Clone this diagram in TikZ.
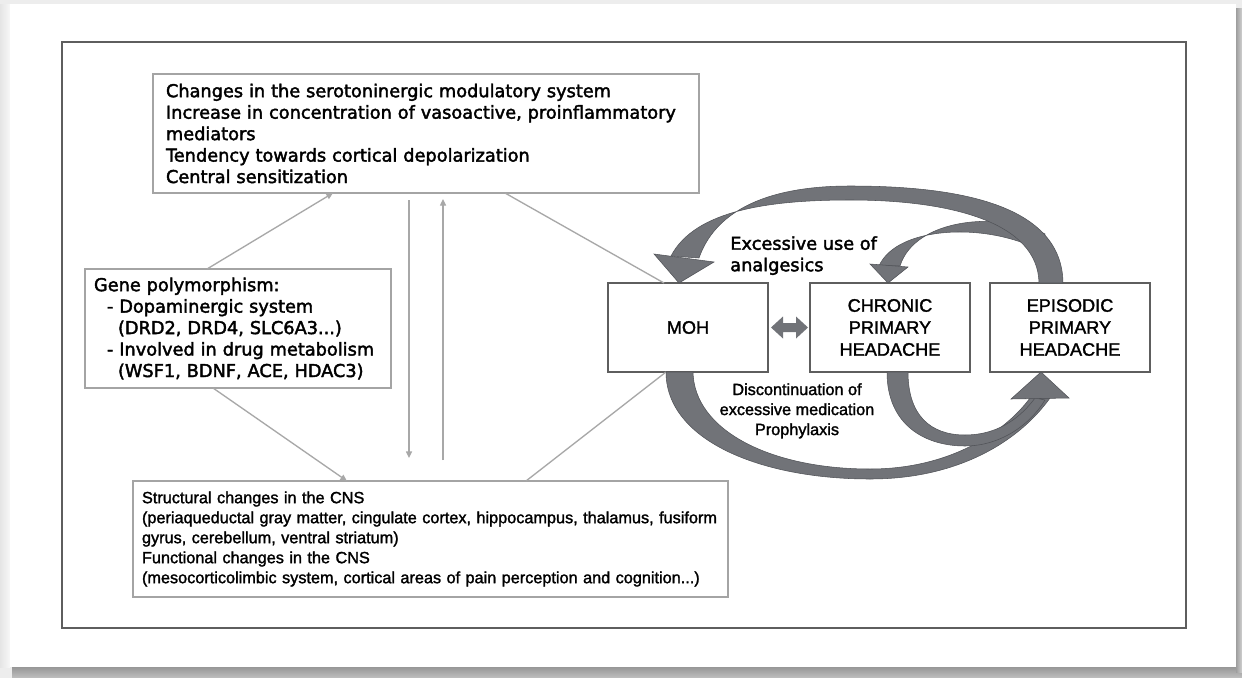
\documentclass[tikz,border=0pt]{standalone}
\usepackage{fontspec}
\setmainfont{DejaVu Sans}
\newfontfamily\vfont[FakeBold=2.2]{DejaVu Sans}
\newfontfamily\afont[FakeBold=1.6]{Liberation Sans}
\usetikzlibrary{arrows.meta,calc}
\definecolor{framec}{HTML}{5E5E5E}
\definecolor{boxline}{HTML}{A4A4A4}
\definecolor{connc}{HTML}{A8A8A8}
\definecolor{rib}{HTML}{717378}
\definecolor{ribdark}{HTML}{505257}
\newdimen\pxu \pxu=0.75pt
\begin{document}
\begin{tikzpicture}[x=0.75pt,y=-0.75pt,
  gbox/.style={draw=boxline,line width=1.1pt,outer sep=0pt,anchor=north west,align=left},
  hbox/.style={draw=framec,line width=1.1pt,outer sep=0pt,anchor=north west,align=center,
     minimum width=160\pxu,minimum height=89\pxu,inner sep=0pt,
     font={\afont\fontsize{13.6}{16.5}\selectfont}},
  vtext/.style={font={\vfont\fontsize{13.3}{16.1}\selectfont}},
  atext/.style={font={\afont\fontsize{12.2}{15}\selectfont}},
  conn/.style={draw=connc,line width=1pt},
  connarrow/.style={conn,-{Triangle[length=5pt,width=4.5pt]}},
  ribbon/.style={fill=rib,draw=ribdark,line width=0.4pt}
]
\useasboundingbox (0,0) rectangle (1242,678);
% card and shadow
\fill[black!7] (0,0) rectangle (1242,678);
\shade[top color=black!45,bottom color=black!25] (12,664) rectangle (1242,678);
\shade[left color=black!38,right color=black!18] (1236,8) rectangle (1242,672);
\shade[left color=black!10,right color=black!3] (0,4) rectangle (10,667);
\fill[white] (10,4) rectangle (1236,667);
% inner frame
\draw[framec,line width=1.2pt] (62,42) rectangle (1186,628);

% left boxes
\node[gbox,vtext,minimum width=546\pxu,minimum height=119\pxu,text width=520\pxu,inner xsep=13\pxu] (top) at (153,74)
 {Changes in the serotoninergic modulatory system\\Increase in concentration of vasoactive, proinflammatory\\mediators\\Tendency towards cortical depolarization\\Central sensitization};
\node[gbox,vtext,minimum width=306\pxu,minimum height=119\pxu,text width=288\pxu,inner xsep=9\pxu] (gene) at (85,269)
 {Gene polymorphism:\\\hspace*{13\pxu}- Dopaminergic system\\\hspace*{24\pxu}(DRD2, DRD4, SLC6A3...)\\\hspace*{13\pxu}- Involved in drug metabolism\\\hspace*{24\pxu}(WSF1, BDNF, ACE, HDAC3)};
\node[gbox,atext,minimum width=595\pxu,minimum height=116\pxu,text width=577\pxu,inner xsep=9\pxu] (bot) at (133,481)
 {Structural changes in the CNS\\(periaqueductal gray matter, cingulate cortex, hippocampus, thalamus, fusiform\\gyrus, cerebellum, ventral striatum)\\Functional changes in the CNS\\(mesocorticolimbic system, cortical areas of pain perception and cognition...)};

% right boxes
\node[hbox] (moh) at (608,283) {MOH};
\node[hbox] (chr) at (810,283) {CHRONIC\\PRIMARY\\HEADACHE};
\node[hbox] (epi) at (990,283) {EPISODIC\\PRIMARY\\HEADACHE};

% labels
\node[vtext,anchor=north west,inner sep=0pt,align=left] (lab1) at (730,236) {Excessive use of\\analgesics};
\node[atext,anchor=north,inner sep=0pt,align=center] (lab2) at (797,383) {Discontinuation of\\excessive medication\\Prophylaxis};

% thin connectors
\draw[connarrow] ($(gene.north west)+(122,0)$) -- ($(top.south west)+(180,0)$);
\draw[connarrow] ($(gene.south west)+(128,0)$) -- ($(bot.north west)+(214,0)$);
\draw[connarrow] ($(top.south west)+(256,7)$) -- ($(bot.north west)+(276,-23)$);
\draw[connarrow] ($(bot.north west)+(310,-21)$) -- ($(top.south west)+(290,6)$);
\draw[conn] ($(top.south west)+(352,0)$) -- ($(moh.north west)+(56,0)$);
\draw[conn] ($(bot.north west)+(393,0)$) -- ($(moh.south west)+(58,0)$);

% double arrow MOH <-> chronic
\fill[rib] ($(moh.east)+(3,0)$) -- ++(12,-11) -- ++(0,6.5) -- ++(13,0) -- ++(0,-6.5) -- ++(12,11)
  -- ++(-12,11) -- ++(0,-6.5) -- ++(-13,0) -- ++(0,6.5) -- cycle;

% top inner arc (episodic -> chronic)
\path[ribbon] (1045,234) .. controls (1000,211) and (915,218) .. (900,266)
  -- (879,266) .. controls (897,225) and (990,222) .. (1043,252) -- cycle;
\path[ribbon] (870,264) -- ($(chr.north west)+(78,0)$) -- (908,267) -- cycle;
% top outer arc (episodic -> MOH)
\path[ribbon] (1063,283) .. controls (1062,205) and (960,186) .. (850,186)
  .. controls (760,186) and (714,215) .. (699,258)
  -- (671,256) .. controls (695,210) and (770,200) .. (850,200)
  .. controls (950,200) and (1038,222) .. (1039,283) -- cycle;
\path[ribbon] (654,254) -- ($(moh.north west)+(71,0)$) -- (714,262) -- cycle;
% bottom outer arc (MOH -> episodic)
\path[ribbon] (666,372) .. controls (666,440) and (760,479) .. (870,479)
  .. controls (960,479) and (1020,440) .. (1050,398)
  -- (1030,398) .. controls (1005,432) and (950,469) .. (870,469)
  .. controls (770,469) and (694,430) .. (693,372) -- cycle;
% bottom inner arc (chronic -> episodic)
\path[ribbon] (887,372) .. controls (887,425) and (925,446) .. (965,446)
  .. controls (1000,446) and (1030,425) .. (1045,400)
  -- (1035,398) .. controls (1015,425) and (990,435) .. (965,435)
  .. controls (930,435) and (908,415) .. (908,372) -- cycle;
\path[ribbon] (1011,399) -- ($(epi.south west)+(51,0)$) -- (1069,398) -- cycle;
\end{tikzpicture}
\end{document}
